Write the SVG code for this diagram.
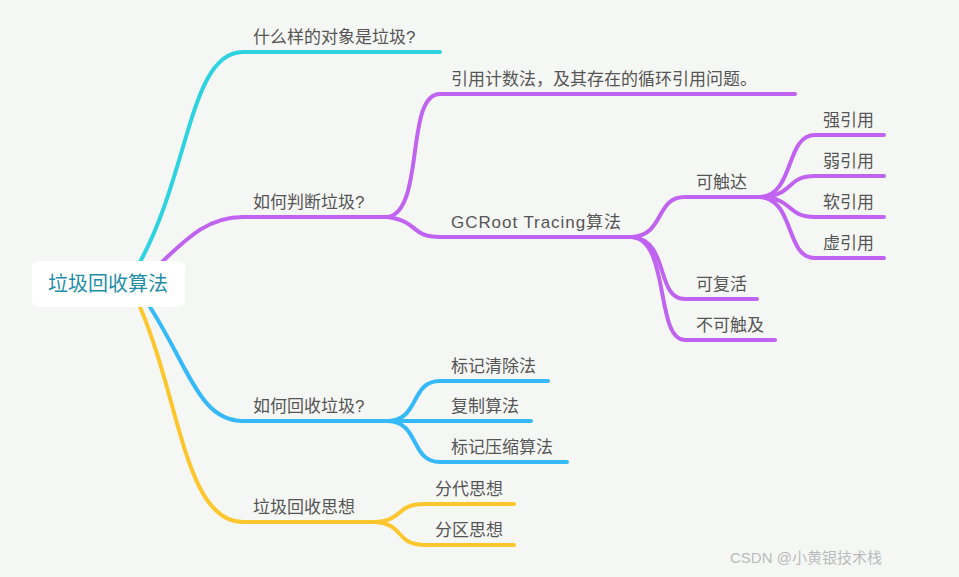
<svg xmlns="http://www.w3.org/2000/svg" width="959" height="577" viewBox="0 0 959 577">
<style>
text{font-family:"Liberation Sans","Noto Sans CJK SC",sans-serif;font-size:17px;fill:#555}
.c path{fill:none;stroke-width:4;stroke-linecap:round}
.cy{stroke:#2ed3e0}.pu{stroke:#c063f0}.bl{stroke:#35b9f8}.ye{stroke:#fcc62e}
</style>
<rect width="959" height="577" fill="#f5f7f4"/>
<g id="connectors" class="c">
<path class="cy" d="M140,262 C190,170 190,52 243,52 H440"/>
<path class="pu" d="M162,262 C190,235 210,217 243,217 H388"/>
<path class="pu" d="M388,217 C425,210 405,94 440,94 H795"/>
<path class="pu" d="M388,217 C420,222 410,237 440,237 H632"/>
<path class="pu" d="M632,237 C665,235 655,197 685,197 H760"/>
<path class="pu" d="M632,237 C670,240 655,299 685,299 H757"/>
<path class="pu" d="M632,237 C670,240 655,340 685,340 H775"/>
<path class="pu" d="M760,197 C795,195 785,135 815,135 H884"/>
<path class="pu" d="M760,197 C795,196 785,176 815,176 H884"/>
<path class="pu" d="M760,197 C795,198 785,217 815,217 H884"/>
<path class="pu" d="M760,197 C795,199 785,258 815,258 H884"/>
<path class="bl" d="M150,307 C190,370 200,421 243,421 H388"/>
<path class="bl" d="M388,421 C420,420 410,381 440,381 H548"/>
<path class="bl" d="M388,421 H531"/>
<path class="bl" d="M388,421 C420,422 410,462 440,462 H567"/>
<path class="ye" d="M140,307 C180,400 185,522 243,522 H375"/>
<path class="ye" d="M375,522 C405,520 395,504 425,504 H514"/>
<path class="ye" d="M375,522 C405,524 395,545 425,545 H514"/>
</g>
<g id="root"><rect x="32" y="261" width="153" height="46" rx="6" fill="#fff"/><text x="108" y="291" text-anchor="middle" style="font-size:20px;fill:#1f8ea6">垃圾回收算法</text></g>
<g id="n1"><text x="253" y="43">什么样的对象是垃圾?</text></g>
<g id="n2"><text x="253" y="208">如何判断垃圾?</text></g>
<g id="n21"><text x="451" y="85">引用计数法，及其存在的循环引用问题。</text></g>
<g id="n22"><text x="451" y="228" textLength="170">GCRoot Tracing算法</text></g>
<g id="n221"><text x="696" y="188">可触达</text></g>
<g id="n2211"><text x="823" y="126">强引用</text></g>
<g id="n2212"><text x="823" y="167">弱引用</text></g>
<g id="n2213"><text x="823" y="208">软引用</text></g>
<g id="n2214"><text x="823" y="249">虚引用</text></g>
<g id="n222"><text x="696" y="290">可复活</text></g>
<g id="n223"><text x="696" y="331">不可触及</text></g>
<g id="n3"><text x="253" y="412">如何回收垃圾?</text></g>
<g id="n31"><text x="451" y="372">标记清除法</text></g>
<g id="n32"><text x="451" y="412">复制算法</text></g>
<g id="n33"><text x="451" y="453">标记压缩算法</text></g>
<g id="n4"><text x="253" y="513">垃圾回收思想</text></g>
<g id="n41"><text x="435" y="495">分代思想</text></g>
<g id="n42"><text x="435" y="536">分区思想</text></g>
<text x="730" y="563" style="fill:#bbb;font-size:15px">CSDN @小黄银技术栈</text>
</svg>
